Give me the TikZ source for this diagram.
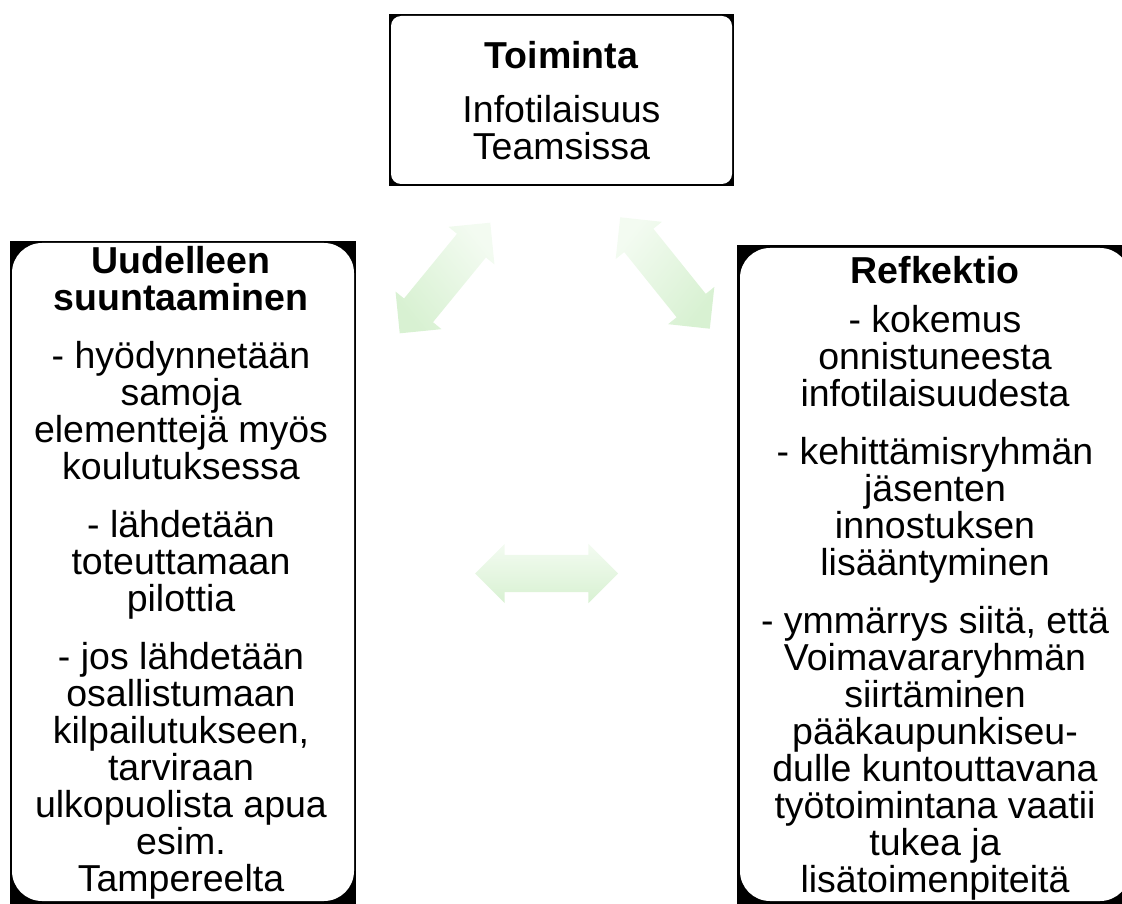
\documentclass[tikz,border=0pt]{standalone}
\usepackage{fontspec}
\setmainfont{Liberation Sans}
\usetikzlibrary{shapes.arrows}

\definecolor{ArrowLight}{HTML}{F3FBF1}
\definecolor{ArrowDark}{HTML}{D8F1D2}

\begin{document}
\begin{tikzpicture}[x=1pt,y=-1pt]
  \tikzstyle{TextStyle}=[inner sep=0pt,align=center,font=\fontsize{37.5}{37}\selectfont]
  \tikzstyle{ArrowStyle}=[double arrow,double arrow tip angle=90,double arrow head extend=11pt,minimum width=59pt,minimum height=143pt,inner xsep=0pt,inner ysep=18.5pt,top color=ArrowLight,bottom color=ArrowDark]
  \useasboundingbox (0,0) rectangle (1122,904);
  % black frames with white rounded insides
  \fill[black] (389,14) rectangle (734,186);
  \fill[black] (10,241) rectangle (356,904);
  \fill[black] (737,245) rectangle (1130,904);
  \fill[white,rounded corners=10pt] (391,16) rectangle (732,184);
  \fill[white,rounded corners=30pt] (12,243) rectangle (354,901);
  \fill[white,rounded corners=30pt] (740,248) rectangle (1130,901);
  \node[TextStyle] (toiminta) at (561.5,101)
    {\textbf{Toiminta}\\[17pt]Infotilaisuus\\Teamsissa};
  \node[TextStyle] (uudelleen) at (181,573)
    {\textbf{Uudelleen}\\\textbf{suuntaaminen}\\[21pt]- hyödynnetään\\samoja\\elementtejä myös\\koulutuksessa\\[21pt]- lähdetään\\toteuttamaan\\pilottia\\[21pt]- jos lähdetään\\osallistumaan\\kilpailutukseen,\\tarviraan\\ulkopuolista apua\\esim.\\Tampereelta};
  \node[TextStyle] (refkektio) at (935,578)
    {\textbf{Refkektio}\\[12pt]- kokemus\\onnistuneesta\\infotilaisuudesta\\[21pt]- kehittämisryhmän\\jäsenten\\innostuksen\\lisääntyminen\\[21pt]- ymmärrys siitä, että\\Voimavararyhmän\\siirtäminen\\pääkaupunkiseu-\\dulle kuntouttavana\\työtoimintana vaatii\\tukea ja\\lisätoimenpiteitä};
  % arrows between the phases
  \node[ArrowStyle,rotate=50.7,shading angle=-50.7] (a1) at (445,278) {};
  \node[ArrowStyle,rotate=-51.2,shading angle=51.2] (a2) at (665,273) {};
  \node[ArrowStyle] (a3) at (546.5,573.5) {};
\end{tikzpicture}
\end{document}
